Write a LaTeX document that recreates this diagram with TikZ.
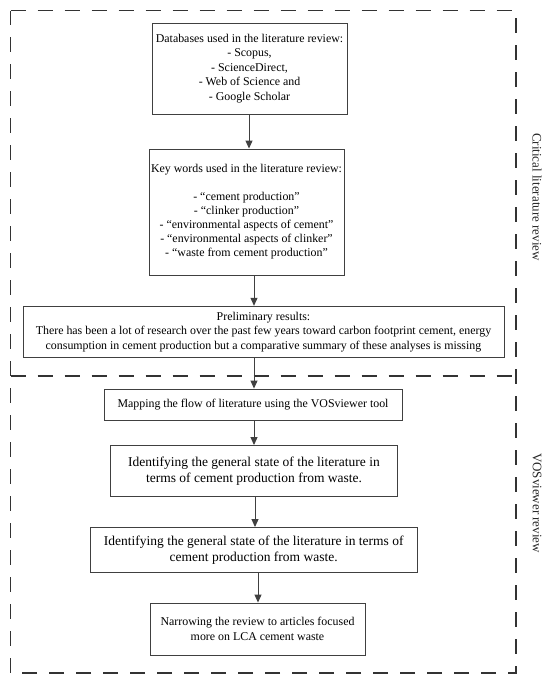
\documentclass[tikz,border=0pt]{standalone}
\usepackage{fontspec}
\setmainfont{Liberation Serif}
\usetikzlibrary{arrows.meta}
\begin{document}
\begin{tikzpicture}[x=1pt,y=1pt,
  box/.style={draw=black!75, line width=0.9pt, align=center, inner sep=0pt, font=\fontsize{11.9}{14.5}\selectfont},
  bigbox/.style={box, font=\fontsize{13.5}{16}\selectfont},
  arr/.style={draw=black!75, line width=1pt, -{Triangle[length=8pt,width=7pt]}},
  region/.style={draw=black!80, line width=1.2pt, dash pattern=on 15pt off 12pt},
  side/.style={rotate=-90, font=\fontsize{13}{15}\selectfont, text=black!85}]
\useasboundingbox (0,0) rectangle (550,-680);
% dashed regions
\draw[region] (10.5,-10.5) -- (516,-10.5) -- (516,-673) -- (10.5,-673) -- cycle;
\draw[region] (10.5,-376) -- (516,-376);
% boxes
\node[box, minimum width=195, minimum height=91] (b1) at (249.5,-68.5)
  {Databases used in the literature review:\\- Scopus,\\- ScienceDirect,\\- Web of Science and\\- Google Scholar};
\node[box, minimum width=195, minimum height=126, font=\fontsize{11.9}{14}\selectfont] (b2) at (246.5,-212)
  {Key words used in the literature review:\\[14pt]- “cement production”\\- “clinker production”\\- “environmental aspects of cement”\\- “environmental aspects of clinker”\\- “waste from cement production”};
\node[box, minimum width=481, minimum height=51.5] (b3) at (263.5,-332)
  {Preliminary results:\\There has been a lot of research over the past few years toward carbon footprint cement, energy\\consumption in cement production but a comparative summary of these analyses is missing};
\node[box, minimum width=298, minimum height=31] (b4) at (253,-404.5)
  {Mapping the flow of literature using the VOSviewer tool};
\node[bigbox, minimum width=287, minimum height=51] (b5) at (254,-471)
  {Identifying the general state of the literature in\\terms of cement production from waste.};
\node[bigbox, minimum width=327, minimum height=45] (b6) at (253.7,-550)
  {Identifying the general state of the literature in terms of\\cement production from waste.};
\node[box, minimum width=215, minimum height=52] (b7) at (257.5,-629)
  {Narrowing the review to articles focused\\more on LCA cement waste};
% side labels
\node[side] (l1) at (537,-197) {Critical literature review};
\node[side] (l2) at (537,-503) {VOSviewer review};
% arrow x positions
\coordinate (xa) at (249,0);
\coordinate (xb) at (254,0);
\coordinate (xc) at (255,0);
\coordinate (xd) at (258,0);
\draw[arr] (b1.south -| xa) -- (b2.north -| xa);
\draw[arr] (b2.south -| xb) -- (b3.north -| xb);
\draw[arr] (b3.south -| xb) -- (b4.north -| xb);
\draw[arr] (b4.south -| xb) -- (b5.north -| xb);
\draw[arr] (b5.south -| xc) -- (b6.north -| xc);
\draw[arr] (b6.south -| xd) -- (b7.north -| xd);
\end{tikzpicture}
\end{document}
